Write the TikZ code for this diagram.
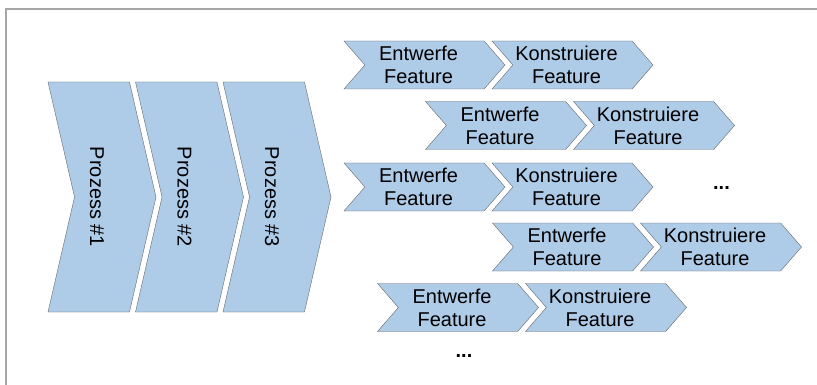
\documentclass[tikz,border=0pt]{standalone}
\usepackage{fontspec}
\setmainfont{Liberation Sans}
\usetikzlibrary{shapes.symbols}

\definecolor{stepfill}{HTML}{AECBE8}
\definecolor{stepline}{HTML}{686868}
\definecolor{framegray}{HTML}{A6A6A6}

% two-line label, set a bit left of the shape's centre
\newcommand{\featlabel}[1]{#1\hspace*{12pt}\\Feature\hspace*{12pt}}
\newcommand{\proclabel}[1]{\rotatebox{-90}{Prozess \##1}\hspace*{10pt}}

\begin{document}
\begin{tikzpicture}[
    x=1pt,
    y=-1pt,
    font=\fontsize{20}{23}\selectfont,
    phase/.style={
        signal,
        signal from=west,
        signal to=east,
        signal pointer angle=154,
        draw=stepline,
        fill=stepfill,
        inner sep=0pt,
        minimum width=108pt,
        minimum height=230pt
    },
    task/.style={
        signal,
        signal from=west,
        signal to=east,
        signal pointer angle=98,
        draw=stepline,
        fill=stepfill,
        align=center,
        inner sep=0pt,
        minimum width=161pt,
        minimum height=48pt
    },
    more/.style={font=\fontsize{20}{23}\selectfont\bfseries}
]
\useasboundingbox (0,0) rectangle (817,385);

% Frame
\draw[framegray, line width=1.5pt] (6,385) -- (6,9) -- (817,9);

% Process chevrons
\node[phase] (p1) at (102,197) {\proclabel{1}};
\node[phase] (p2) at (189.5,197) {\proclabel{2}};
\node[phase] (p3) at (277,197) {\proclabel{3}};

% Feature rows
\node[task] (e1) at (424.5,65) {\featlabel{Entwerfe}};
\node[task] (k1) at (572.5,65) {\featlabel{Konstruiere}};

\node[task] (e2) at (506,125.5) {\featlabel{Entwerfe}};
\node[task] (k2) at (654,125.5) {\featlabel{Konstruiere}};

\node[task] (e3) at (424.5,187) {\featlabel{Entwerfe}};
\node[task] (k3) at (572.5,187) {\featlabel{Konstruiere}};

\node[task] (e4) at (573,247) {\featlabel{Entwerfe}};
\node[task] (k4) at (721,247) {\featlabel{Konstruiere}};

\node[task] (e5) at (458,307.5) {\featlabel{Entwerfe}};
\node[task] (k5) at (606,307.5) {\featlabel{Konstruiere}};

% Continuation marks
\node[more] (m1) at (721.5,188) {...};
\node[more] (m2) at (464,356) {...};

\end{tikzpicture}
\end{document}
